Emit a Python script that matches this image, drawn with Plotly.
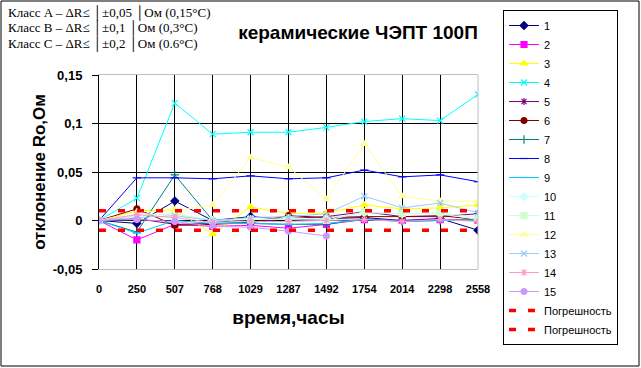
import plotly.graph_objects as go

hours = ["0", "250", "507", "768", "1029", "1287", "1492", "1754", "2014", "2298", "2558"]

s1 = [0, -0.003, 0.020, 0.000, 0.004, 0.001, 0.002, 0.003, 0.000, 0.002, -0.010]
s2 = [0, -0.020, -0.004, -0.006, -0.005, -0.008, -0.004, 0.001, 0.000, 0.001, 0.000]
s3 = [0, 0.010, 0.011, -0.014, 0.014, 0.007, 0.008, 0.016, 0.012, 0.013, 0.016]
s4 = [0, 0.023, 0.121, 0.089, 0.091, 0.091, 0.096, 0.102, 0.105, 0.103, 0.130]
s5 = [0, 0.002, -0.004, -0.003, -0.002, 0.002, 0.004, 0.009, 0.004, 0.004, 0.007]
s6 = [0, 0.012, -0.005, -0.004, -0.002, 0.005, 0.003, 0.004, 0.004, 0.005, 0.001]
s7 = [0, -0.012, 0.047, 0.000, -0.003, -0.004, -0.004, 0.002, -0.001, 0.000, 0.001]
s8 = [0, 0.044, 0.044, 0.043, 0.046, 0.043, 0.044, 0.052, 0.045, 0.047, 0.040]
s9 = [0, -0.013, 0.000, -0.003, -0.003, -0.004, -0.003, 0.001, -0.001, 0.000, 0.000]
s10 = [0, 0.007, 0.006, 0.000, 0.001, 0.002, 0.002, 0.008, 0.007, 0.007, 0.001]
s11 = [0, 0.005, 0.007, 0.000, 0.001, 0.001, 0.000, 0.009, 0.007, 0.008, 0.003]
s12 = [0, 0.009, 0.010, 0.016, 0.065, 0.055, 0.022, 0.079, 0.025, 0.020, 0.020]
s13 = [0, 0.003, 0.005, 0.000, 0.003, 0.004, 0.007, 0.025, 0.013, 0.018, 0.008]
s14 = [0, 0.006, 0.003, -0.002, -0.001, -0.001, 0.000, 0.001, -0.001, 0.001, -0.001]
s15 = [0, 0.001, -0.001, -0.006, -0.007, -0.011, -0.016, None, None, None, None]
err_hi = [0.01] * 11
err_lo = [-0.01] * 11

series_names = ["1", "2", "3", "4", "5", "6", "7", "8", "9", "10", "11", "12", "13", "14", "15"]
series_vals = [s1, s2, s3, s4, s5, s6, s7, s8, s9, s10, s11, s12, s13, s14, s15]
colors = ["#000080", "#FF00FF", "#FFFF00", "#00FFFF", "#800080", "#800000", "#008080",
          "#0000FF", "#00CCFF", "#CCFFFF", "#CCFFCC", "#FFFF99", "#99CCFF", "#FF99CC", "#CC99FF"]
symbols = ["diamond", "square", "triangle-up", "x-thin", "asterisk", "circle", "cross-thin",
           "line-ew", "line-ew", "diamond", "square", "triangle-up", "x-thin", "asterisk", "circle"]

ytick_vals = [-0.05, 0, 0.05, 0.1, 0.15]
ytick_text = ["-0,05", "0", "0,05", "0,1", "0,15"]

fig = go.Figure()
for name, vals, col, sym in zip(series_names, series_vals, colors, symbols):
    fig.add_trace(go.Scatter(
        x=hours, y=vals, name=name, mode="lines+markers",
        line=dict(color=col, width=1),
        marker=dict(symbol=sym, size=6, color=col, line=dict(color=col, width=1.2)),
    ))
for vals in (err_hi, err_lo):
    fig.add_trace(go.Scatter(
        x=hours, y=vals, name="Погрешность", mode="lines",
        line=dict(color="#FF0000", width=3.5, dash="7px,12px"),
    ))

L, R, T, B = 99, 478, 75, 269
W, H = 641, 368
pw, ph = R - L, B - T

fig.update_layout(
    width=W, height=H, autosize=False,
    margin=dict(l=L, r=W - R, t=T, b=H - B, pad=0, autoexpand=False),
    paper_bgcolor="white", plot_bgcolor="white",
    font=dict(family="Arial, Liberation Sans", color="black"),
    title=dict(text="<b>керамические ЧЭПТ 100П</b>", font=dict(size=19, color="black"),
               x=358 / W, xanchor="center", y=1 - 32 / H, yanchor="middle"),
    legend=dict(xref="container", yref="container", x=503 / W, y=1 - 10 / H,
                xanchor="left", yanchor="top", bgcolor="white",
                bordercolor="black", borderwidth=1, maxheight=350,
                font=dict(size=11, family="Arial, Liberation Sans"),
                tracegroupgap=0, itemwidth=30),
    xaxis=dict(type="category", range=[0, 10], showgrid=True, gridcolor="black", gridwidth=1,
               showline=True, linecolor="#C0C0C0", linewidth=1, mirror=True, automargin=False,
               ticks="outside", ticklen=10, tickcolor="rgba(0,0,0,0)",
               tickfont=dict(size=11, family="Arial, Liberation Sans"),
               tickprefix="<b>", ticksuffix="</b>",
               title=dict(text="<b>время,часы</b>", font=dict(size=19), standoff=16),
               zeroline=False),
    yaxis=dict(range=[-0.05, 0.15], tickvals=ytick_vals, ticktext=["<b>" + t + "</b>" for t in ytick_text],
               showgrid=True, gridcolor="black", gridwidth=1, zeroline=False, automargin=False,
               showline=True, linecolor="black", linewidth=1,
               ticks="outside", ticklen=6, tickcolor="black", ticklabelstandoff=7,
               tickfont=dict(size=13, family="Arial, Liberation Sans"),
               title=dict(text="<b>отклонение Ro,Ом</b>", font=dict(size=17), standoff=2)),
)

# grey right border of plot area
fig.add_shape(type="line", xref="paper", yref="paper", x0=1, x1=1, y0=0, y1=1,
              line=dict(color="#C0C0C0", width=1), layer="above")
# outer chart border
fig.add_shape(type="rect", xref="paper", yref="paper",
              x0=(1 - L) / pw, x1=(639 - L) / pw, y0=(B - 366) / ph, y1=(B - 1) / ph,
              line=dict(color="black", width=1), fillcolor="rgba(0,0,0,0)", layer="above")

lines_txt = [
    "Класс A – ΔR≤ │±0,05 │Ом (0,15°C)",
    "Класс B – ΔR≤ │±0,1 │Ом (0,3°C)",
    "Класс C – ΔR≤ │±0,2 │Ом (0.6°C)",
]
for i, t in enumerate(lines_txt):
    fig.add_annotation(text=t, xref="paper", yref="paper",
                       x=(6 - L) / pw, y=(B - (13 + 15.5 * i)) / ph,
                       xanchor="left", yanchor="middle", showarrow=False,
                       font=dict(family="Liberation Serif, Times New Roman", size=13, color="black"))

fig.write_html("out.html", config={"displayModeBar": False},
               post_script="document.body.style.margin='0';document.body.style.overflow='hidden';")
